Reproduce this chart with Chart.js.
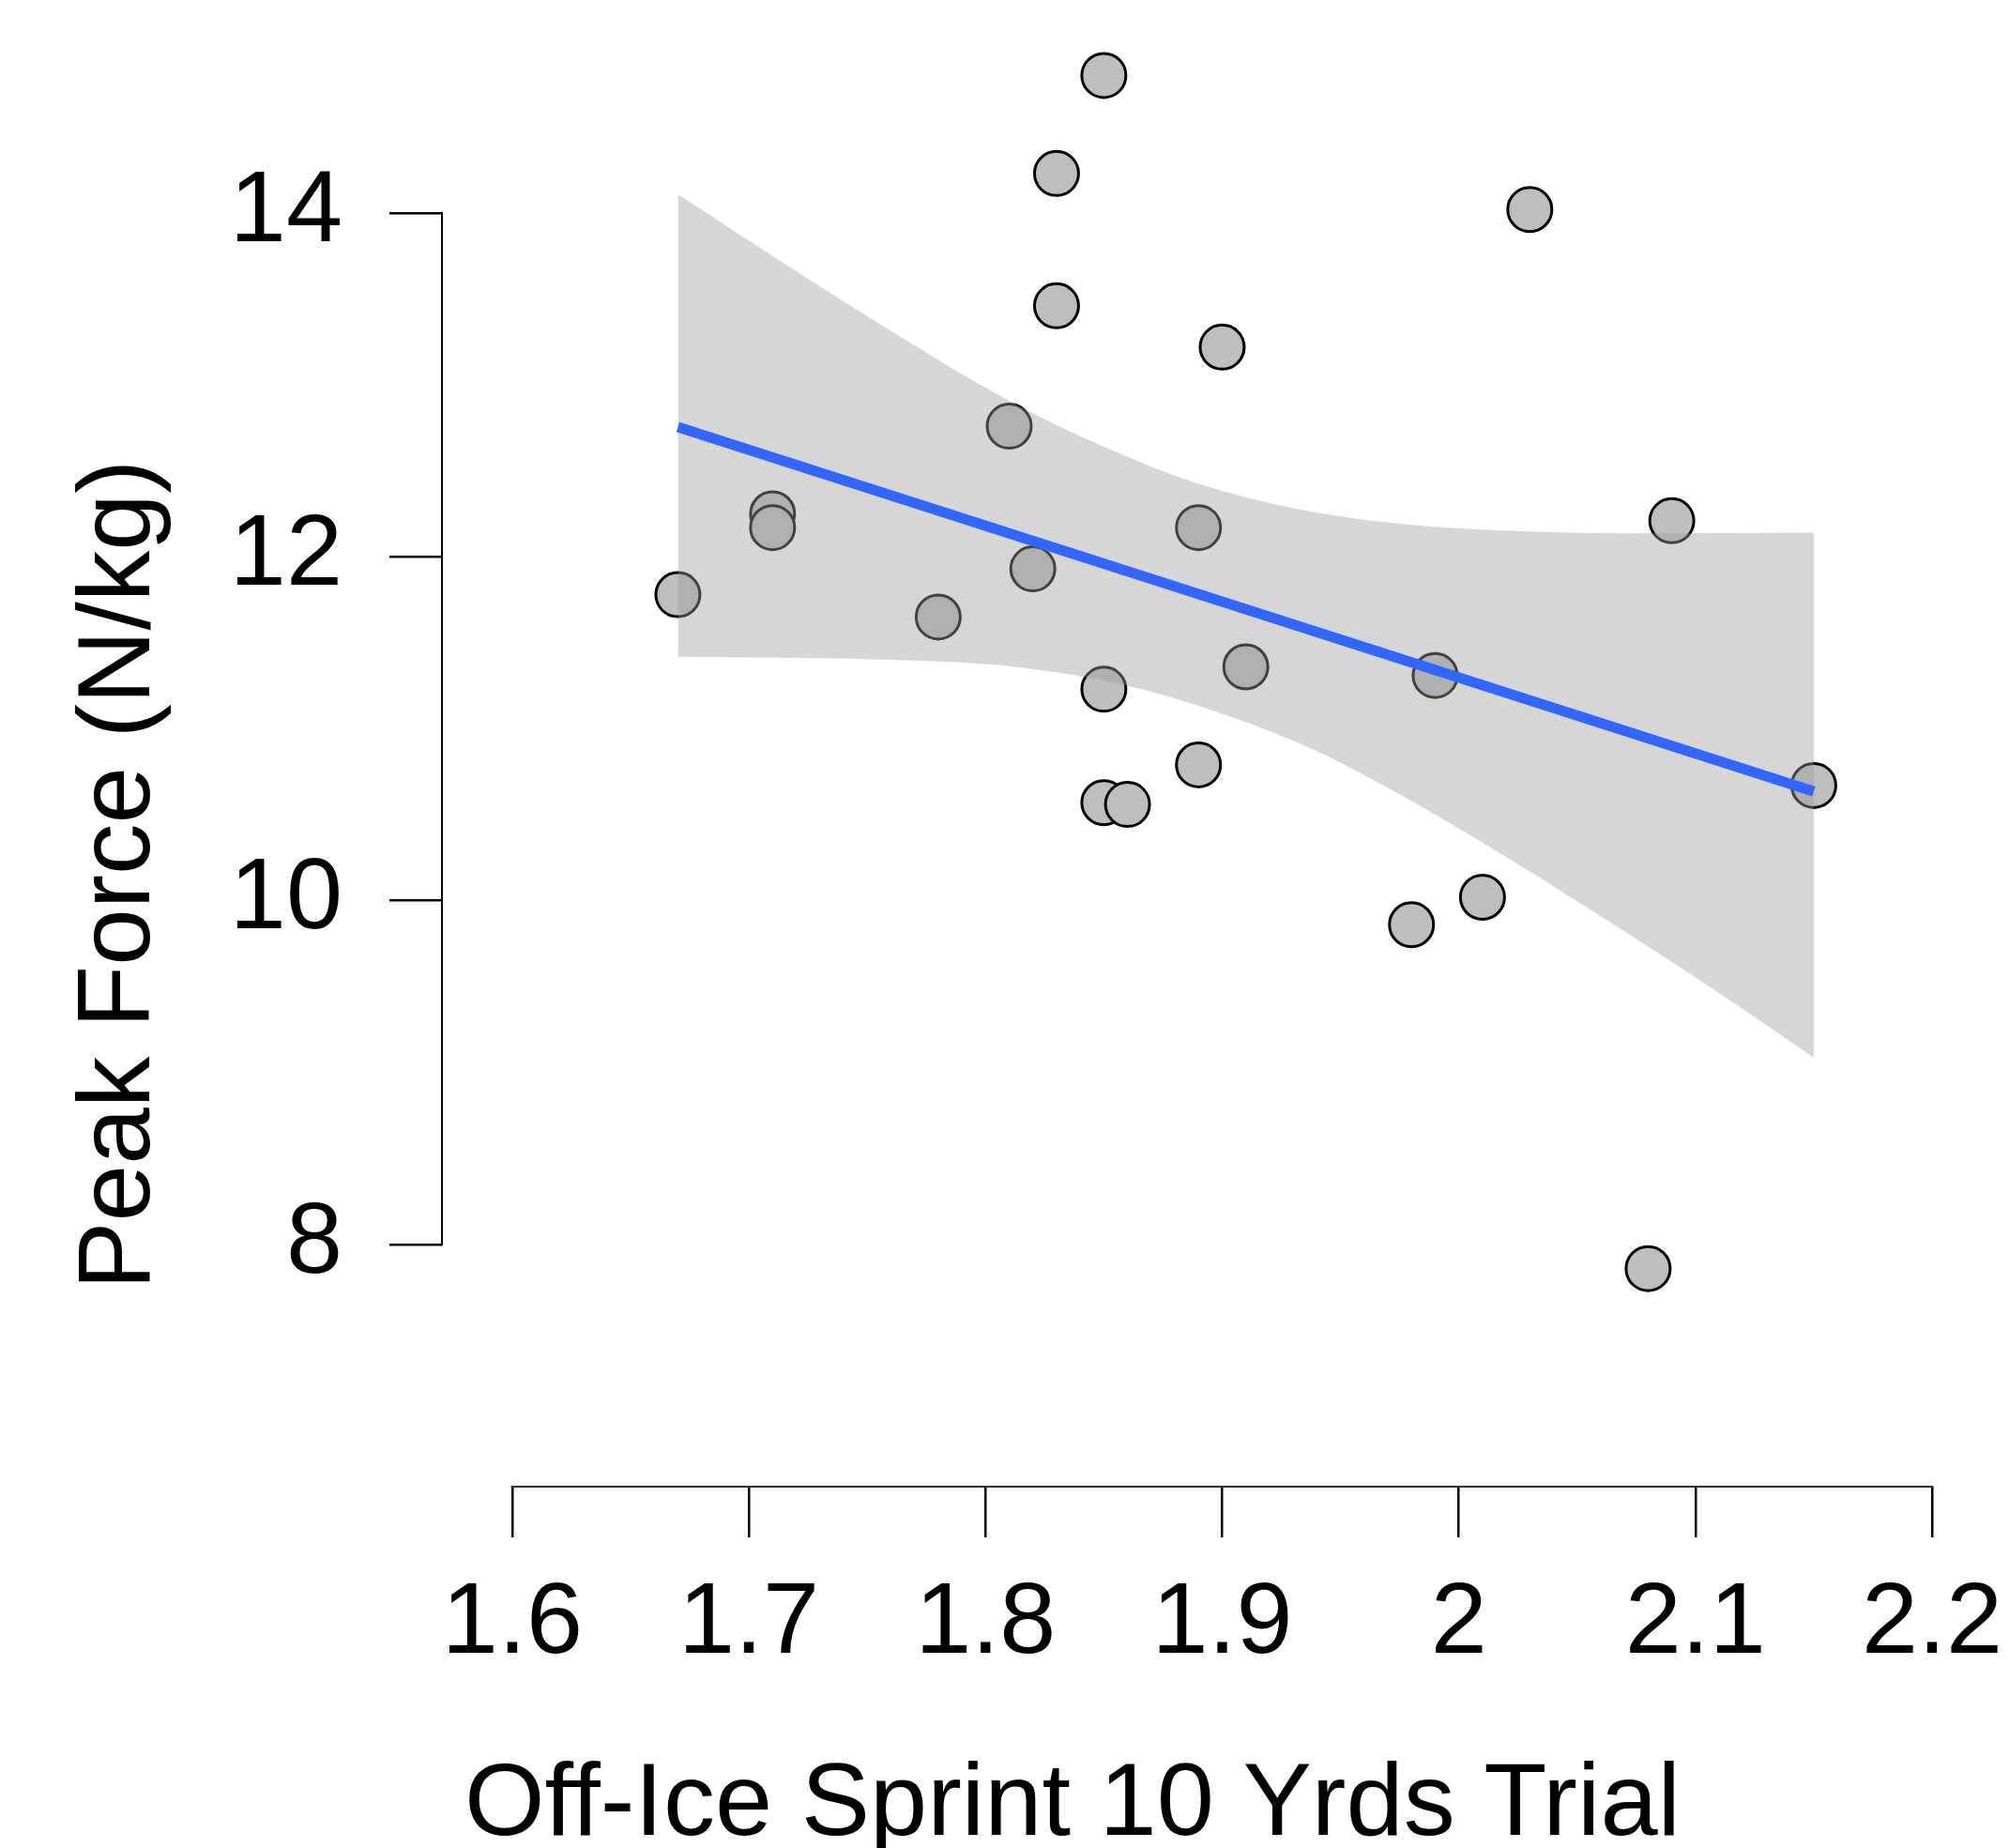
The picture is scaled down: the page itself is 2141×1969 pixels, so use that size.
<!DOCTYPE html>
<html>
<head>
<meta charset="utf-8">
<title>Peak Force vs Off-Ice Sprint</title>
<script src="https://cdn.jsdelivr.net/npm/chart.js@4.4.1/dist/chart.umd.min.js"></script>
<style>
  html, body { margin: 0; padding: 0; background: #fff; overflow: hidden; }
  #wrap { width: 2141px; height: 1969px; position: relative; }
</style>
</head>
<body>
<div id="wrap"><canvas id="scatterChart"></canvas></div>
<script>
// ===============================
// DATA
// ===============================
const sprintX = [1.85, 1.83, 2.03, 1.83, 1.90, 1.81, 1.71, 1.71, 1.89, 2.09, 1.82, 1.67,
                 1.78, 1.91, 1.99, 1.85, 1.89, 1.85, 1.86, 2.15, 2.01, 1.98, 2.08];
const peakForceY = [14.80, 14.23, 14.02, 13.46, 13.22, 12.76, 12.25, 12.17, 12.17, 12.21, 11.93, 11.78,
                    11.65, 11.36, 11.31, 11.23, 10.79, 10.57, 10.56, 10.67, 10.02, 9.86, 7.86];

// regression line (end points)
const fitX = [1.67, 2.15];
const fitY = [12.755, 10.635];

// confidence band edges
const upperX = [1.670, 1.743, 1.809, 1.851, 1.891, 1.931, 1.970, 2.018, 2.072, 2.150];
const upperY = [14.109, 13.46, 12.915, 12.635, 12.42, 12.28, 12.199, 12.153, 12.137, 12.141];
const lowerX = [1.670, 1.760, 1.809, 1.858, 1.891, 1.931, 1.9545, 2.0074, 2.0603, 2.1132, 2.150];
const lowerY = [11.419, 11.401, 11.365, 11.257, 11.13, 10.925, 10.77, 10.36, 9.906, 9.433, 9.087];

const xTicks = [1.6, 1.7, 1.8, 1.9, 2.0, 2.1, 2.2];
const yTicks = [8, 10, 12, 14];

const xTitle = 'Off-Ice Sprint 10 Yrds Trial';
const yTitle = 'Peak Force (N/kg)';

const FONT = "'Liberation Sans', Arial, Helvetica, sans-serif";

function toPoints(xs, ys) {
  return xs.map((x, i) => ({ x: x, y: ys[i] }));
}

// R-style axis lines (only between first and last tick) + titles
const axesPlugin = {
  id: 'axesPlugin',
  afterDraw(chart) {
    const ctx = chart.ctx;
    const xs = chart.scales.x;
    const ys = chart.scales.y;
    const area = chart.chartArea;

    ctx.save();
    ctx.strokeStyle = '#000';
    ctx.lineWidth = 2;
    ctx.lineCap = 'butt';

    // y axis
    ctx.beginPath();
    ctx.moveTo(area.left, ys.getPixelForValue(yTicks[0]) + 1.25);
    ctx.lineTo(area.left, ys.getPixelForValue(yTicks[yTicks.length - 1]) - 1.25);
    ctx.stroke();

    // x axis
    ctx.strokeStyle = '#333';
    ctx.beginPath();
    ctx.moveTo(xs.getPixelForValue(xTicks[0]) - 1.25, area.bottom);
    ctx.lineTo(xs.getPixelForValue(xTicks[xTicks.length - 1]) + 1.25, area.bottom);
    ctx.stroke();

    // titles
    ctx.fillStyle = '#000';
    ctx.textAlign = 'center';
    ctx.textBaseline = 'alphabetic';
    ctx.font = '110px ' + FONT;
    ctx.fillText(xTitle, 1143, 1955);

    ctx.font = '109px ' + FONT;
    ctx.translate(159, 932);
    ctx.rotate(-Math.PI / 2);
    ctx.fillText(yTitle, 0, 0);
    ctx.restore();
  }
};

function createChart() {
  const ctx = document.getElementById('scatterChart').getContext('2d');

  return new Chart(ctx, {
    type: 'scatter',
    data: {
      datasets: [
        {
          type: 'line',
          label: 'fit',
          data: toPoints(fitX, fitY),
          borderColor: '#3366ff',
          borderWidth: 11,
          pointRadius: 0,
          fill: false,
          order: 0
        },
        {
          type: 'line',
          label: 'upper',
          data: toPoints(upperX, upperY),
          borderColor: 'transparent',
          borderWidth: 0,
          pointRadius: 0,
          cubicInterpolationMode: 'monotone',
          backgroundColor: 'rgba(156,156,156,0.415)',
          fill: '+1',
          order: 1
        },
        {
          type: 'line',
          label: 'lower',
          data: toPoints(lowerX, lowerY),
          borderColor: 'transparent',
          borderWidth: 0,
          pointRadius: 0,
          cubicInterpolationMode: 'monotone',
          fill: false,
          order: 2
        },
        {
          label: 'data',
          data: toPoints(sprintX, peakForceY),
          backgroundColor: '#bebebe',
          borderColor: '#000',
          pointRadius: 23.5,
          pointBorderWidth: 3,
          order: 3
        }
      ]
    },
    options: {
      responsive: true,
      maintainAspectRatio: false,
      animation: false,
      layout: { padding: 0, autoPadding: false },
      plugins: {
        legend: { display: false },
        tooltip: { enabled: false }
      },
      scales: {
        x: {
          type: 'linear',
          position: 'bottom',
          min: 1.5703,
          max: 2.2325,
          border: { display: false },
          grid: {
            drawOnChartArea: false,
            drawTicks: true,
            tickLength: 54,
            color: '#000',
            lineWidth: 2.5
          },
          ticks: {
            color: '#000',
            font: { family: FONT, size: 108 },
            padding: 28,
            maxRotation: 0,
            autoSkip: false,
            callback: v => String(v)
          },
          afterBuildTicks: scale => {
            scale.ticks = xTicks.map(v => ({ value: v }));
          },
          afterFit: scale => {
            scale.height = 385;
            scale.paddingLeft = 0;
            scale.paddingRight = 0;
          }
        },
        y: {
          type: 'linear',
          position: 'left',
          min: 6.5915,
          max: 15.239,
          border: { display: false },
          grid: {
            drawOnChartArea: false,
            drawTicks: true,
            tickLength: 56,
            color: '#000',
            lineWidth: 2.5
          },
          ticks: {
            color: '#000',
            font: { family: FONT, size: 108 },
            padding: 50,
            autoSkip: false,
            callback: v => String(v)
          },
          afterBuildTicks: scale => {
            scale.ticks = yTicks.map(v => ({ value: v }));
          },
          afterFit: scale => {
            scale.width = 471;
            scale.paddingTop = 0;
            scale.paddingBottom = 0;
          }
        }
      }
    },
    plugins: [axesPlugin]
  });
}

document.addEventListener('DOMContentLoaded', () => {
  createChart();
});
</script>
</body>
</html>
